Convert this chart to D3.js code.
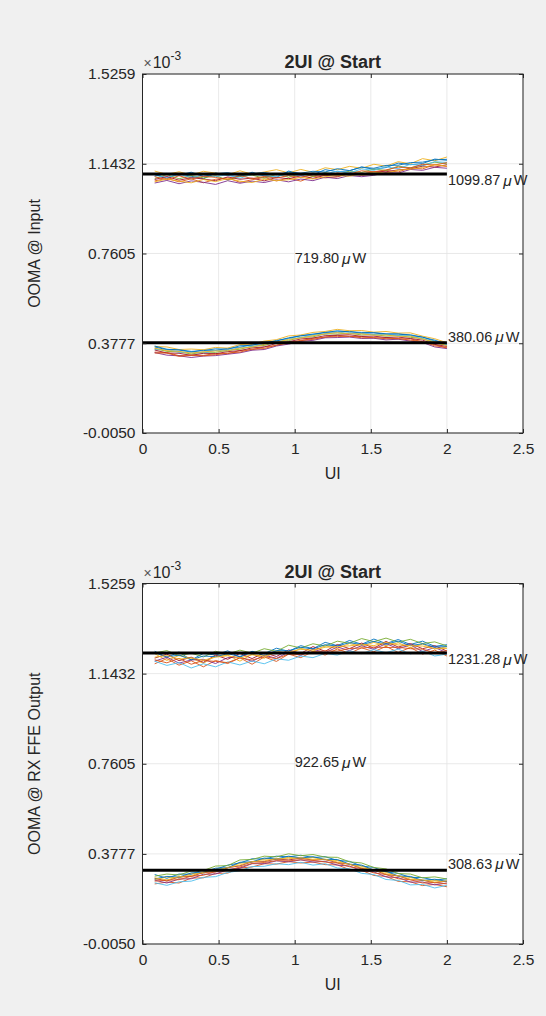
<!DOCTYPE html>
<html>
<head>
<meta charset="utf-8">
<script src="https://d3js.org/d3.v7.min.js"></script>
<style>
  body { margin: 0; background: #f0f0f0; }
  svg { display: block; }
  text { font-family: "Liberation Sans", Arial, Helvetica, sans-serif; fill: #262626; }
</style>
</head>
<body>
<svg width="546" height="1016"></svg>
<script>
// ---- data (values in µW) ----
var uiSamples = [0.08,0.16,0.24,0.32,0.40,0.48,0.56,0.64,0.72,0.80,0.88,0.96,1.04,1.12,1.20,1.28,1.36,1.44,1.52,1.60,1.68,1.76,1.84,1.92,2.00];

var inputHigh = [
  [1098,1082,1101,1090,1079,1104,1093,1088,1107,1091,1085,1112,1099,1096,1118,1109,1113,1130,1119,1127,1146,1139,1144,1163,1158],
  [1070,1081,1066,1079,1062,1077,1083,1064,1075,1085,1070,1082,1069,1090,1083,1087,1101,1094,1099,1115,1108,1126,1121,1140,1131],
  [1112,1098,1109,1095,1111,1103,1096,1113,1099,1108,1118,1104,1119,1107,1126,1118,1132,1124,1141,1133,1152,1143,1165,1156,1172],
  [1061,1072,1058,1070,1064,1055,1071,1060,1069,1063,1075,1066,1078,1071,1086,1080,1093,1088,1094,1106,1103,1119,1115,1128,1124],
  [1080,1097,1079,1093,1083,1092,1074,1090,1095,1081,1098,1086,1101,1089,1106,1095,1112,1106,1121,1114,1133,1126,1138,1150,1143],
  [1095,1083,1100,1082,1096,1088,1097,1081,1098,1094,1088,1102,1090,1105,1099,1112,1104,1121,1115,1130,1122,1141,1134,1152,1149],
  [1076,1089,1073,1084,1078,1071,1087,1077,1082,1070,1085,1079,1092,1081,1094,1090,1103,1098,1110,1109,1117,1121,1133,1129,1139],
  [1090,1102,1094,1107,1089,1100,1105,1092,1101,1106,1096,1108,1103,1111,1108,1122,1114,1128,1124,1136,1137,1148,1150,1160,1162],
  [1088,1075,1092,1078,1090,1085,1076,1093,1080,1089,1082,1093,1084,1096,1093,1103,1099,1113,1109,1117,1129,1125,1141,1138,1148],
  [1066,1078,1069,1062,1076,1067,1080,1069,1063,1077,1071,1075,1085,1078,1088,1094,1090,1101,1107,1103,1116,1120,1127,1139,1133]
];
var inputLow = [
  [362,350,349,340,349,347,356,360,373,376,390,398,411,414,425,426,429,420,422,416,418,410,405,386,379],
  [340,338,325,328,326,334,333,347,350,362,368,383,388,399,403,412,406,407,400,401,396,397,383,372,357],
  [364,362,351,353,350,360,357,372,374,387,393,409,413,424,428,437,431,432,425,428,421,422,408,397,380],
  [338,327,324,317,323,325,331,337,348,351,366,374,386,390,401,402,404,398,399,392,395,387,381,362,355],
  [355,343,341,332,340,339,348,352,365,368,383,389,403,405,418,417,421,413,415,408,411,403,398,378,370],
  [350,352,339,341,335,348,344,361,362,376,380,398,401,414,416,426,419,421,413,416,410,411,396,387,369],
  [349,336,335,326,335,333,342,346,358,362,377,384,396,400,410,412,414,407,408,402,404,398,391,373,364],
  [366,352,350,343,346,354,352,367,369,382,387,401,409,417,423,431,426,424,423,418,417,414,403,391,374],
  [336,336,322,326,324,329,336,340,353,355,370,378,390,394,405,406,408,401,402,397,398,391,385,367,360],
  [357,346,343,336,341,345,345,357,361,373,382,394,400,410,417,423,418,418,412,413,407,408,395,384,367]
];
var ffeHigh = [
  [1238,1212,1235,1201,1229,1222,1240,1213,1236,1228,1251,1238,1262,1249,1276,1262,1284,1268,1290,1271,1288,1267,1281,1259,1266],
  [1185,1207,1179,1198,1172,1199,1186,1210,1183,1214,1195,1226,1211,1237,1222,1248,1229,1253,1236,1259,1233,1254,1226,1243,1218],
  [1228,1199,1220,1209,1187,1218,1221,1196,1226,1208,1240,1226,1251,1238,1262,1250,1271,1259,1276,1262,1274,1253,1268,1248,1257],
  [1196,1213,1188,1201,1204,1186,1211,1214,1195,1222,1208,1235,1220,1247,1232,1256,1241,1262,1246,1271,1249,1265,1237,1254,1232],
  [1231,1241,1219,1230,1214,1238,1226,1243,1230,1249,1238,1264,1252,1270,1260,1281,1272,1292,1279,1294,1277,1289,1271,1278,1261],
  [1196,1178,1190,1167,1185,1172,1193,1180,1197,1185,1206,1200,1218,1211,1229,1222,1240,1228,1245,1232,1247,1227,1239,1218,1226],
  [1209,1226,1198,1213,1191,1222,1204,1229,1207,1232,1216,1244,1229,1258,1238,1267,1249,1273,1251,1280,1256,1271,1249,1262,1239],
  [1232,1214,1222,1202,1218,1215,1228,1216,1238,1220,1241,1240,1255,1248,1266,1260,1275,1266,1280,1268,1281,1262,1270,1256,1258],
  [1202,1189,1208,1183,1199,1195,1190,1210,1201,1215,1207,1226,1224,1236,1240,1239,1250,1252,1256,1254,1255,1249,1247,1232,1241],
  [1213,1220,1205,1210,1200,1213,1219,1210,1223,1218,1232,1235,1246,1243,1255,1258,1261,1268,1262,1276,1265,1262,1260,1249,1250]
];
var ffeLow = [
  [290,274,292,291,311,312,330,339,357,356,368,365,372,362,366,350,346,326,320,301,295,278,277,266,272],
  [250,258,254,275,276,295,296,318,322,336,334,345,339,343,332,331,311,308,286,282,261,259,243,248,238],
  [268,280,275,295,295,313,318,338,343,356,354,363,359,362,352,350,332,326,308,300,283,278,264,266,259],
  [266,254,271,272,291,292,311,317,336,336,348,344,352,343,346,330,326,306,301,280,277,258,258,246,254],
  [283,292,288,305,307,326,328,352,354,368,365,378,370,375,364,363,344,339,320,314,294,292,276,280,271],
  [255,244,259,262,278,281,299,306,324,325,336,332,342,330,336,318,314,295,290,269,265,246,248,233,244],
  [274,263,280,282,299,301,319,327,344,345,356,352,360,351,354,340,334,316,309,290,284,268,266,255,262],
  [271,282,279,297,299,317,319,342,344,360,356,368,360,366,354,354,334,330,309,304,284,282,265,270,261],
  [262,266,268,283,287,303,307,322,337,341,349,348,353,350,343,339,323,315,297,290,272,268,254,256,250],
  [276,267,281,286,300,304,320,330,345,348,357,357,361,354,355,343,334,319,310,293,285,270,267,258,263]
];

var levelHigh = [1099.87, 1231.28];
var levelLow = [380.06, 308.63];
var levelDiff = [719.80, 922.65];
var yLabels = ["OOMA @ Input", "OOMA @ RX FFE Output"];
var titles = ["2UI @ Start", "2UI @ Start"];
var yTicks = [-5, 377.7, 760.5, 1143.2, 1525.9];
var xTicks = [0, 0.5, 1, 1.5, 2, 2.5];
var lineColors = ["#0072BD", "#D95319", "#EDB120", "#7E2F8E", "#77AC30", "#4DBEEE", "#A2142F"];

var groups = [[inputHigh, inputLow], [ffeHigh, ffeLow]];

// ---- layout ----
var svg = d3.select("svg");
var left = 142.5, right = 523;
var panels = [{top: 74, bottom: 433}, {top: 583.5, bottom: 944}];

var xScale = d3.scaleLinear().domain([0, 2.5]).range([left, right]);

panels.forEach(function(p, k) {
  var yScale = d3.scaleLinear().domain([yTicks[0], yTicks[yTicks.length-1]]).range([p.bottom, p.top]);
  var g = svg.append("g");

  g.append("rect")
    .attr("x", left).attr("y", p.top)
    .attr("width", right-left).attr("height", p.bottom-p.top)
    .attr("fill", "#fff");

  // grid
  g.selectAll(".gx").data(xTicks).enter().append("line")
    .attr("x1", function(d) { return xScale(d); }).attr("x2", function(d) { return xScale(d); })
    .attr("y1", p.top).attr("y2", p.bottom)
    .attr("stroke", "#e3e3e3").attr("stroke-width", 0.8);
  g.selectAll(".gy").data(yTicks).enter().append("line")
    .attr("y1", function(d) { return yScale(d); }).attr("y2", function(d) { return yScale(d); })
    .attr("x1", left).attr("x2", right)
    .attr("stroke", "#e3e3e3").attr("stroke-width", 0.8);

  // traces
  var line = d3.line()
    .x(function(d, i) { return xScale(uiSamples[i]); })
    .y(function(d) { return yScale(d); });
  groups[k].forEach(function(set) {
    set.forEach(function(tr, i) {
      g.append("path")
        .attr("d", line(tr))
        .attr("fill", "none")
        .attr("stroke", lineColors[i % lineColors.length])
        .attr("stroke-width", 0.9);
    });
  });

  // level lines
  [levelHigh[k], levelLow[k]].forEach(function(v) {
    g.append("line")
      .attr("x1", xScale(0)).attr("x2", xScale(2))
      .attr("y1", yScale(v)).attr("y2", yScale(v))
      .attr("stroke", "#000").attr("stroke-width", 3);
  });

  // axes (ticks inward, on all four sides)
  var fmtY = function(d) { return (d/1000).toFixed(4); };
  var axL = g.append("g").attr("transform", "translate(" + left + ",0)")
    .call(d3.axisLeft(yScale).tickValues(yTicks).tickSize(-4).tickPadding(7).tickFormat(fmtY));
  var axR = g.append("g").attr("transform", "translate(" + right + ",0)")
    .call(d3.axisRight(yScale).tickValues(yTicks).tickSize(-4).tickFormat(""));
  var axB = g.append("g").attr("transform", "translate(0," + p.bottom + ")")
    .call(d3.axisBottom(xScale).tickValues(xTicks).tickSize(-4).tickPadding(10).tickFormat(function(d) { return String(d); }));
  var axT = g.append("g").attr("transform", "translate(0," + p.top + ")")
    .call(d3.axisTop(xScale).tickValues(xTicks).tickSize(-4).tickFormat(""));
  [axL, axR, axB, axT].forEach(function(a) {
    a.select(".domain").remove();
    a.selectAll("line").attr("stroke", "#262626");
    a.selectAll("text").attr("fill", "#262626")
      .style("font-family", "'Liberation Sans', Arial, sans-serif").style("font-size", "15.5px");
  });

  g.append("rect")
    .attr("x", left).attr("y", p.top)
    .attr("width", right-left).attr("height", p.bottom-p.top)
    .attr("fill", "none").attr("stroke", "#262626").attr("stroke-width", 1);

  // exponent
  var ex = g.append("text").attr("x", left + 1).attr("y", p.top - 6).style("font-size", "16px");
  ex.append("tspan").text("\u00d7").style("font-size", "14px").attr("fill", "#555");
  ex.append("tspan").text("10").attr("dx", 1);
  ex.append("tspan").text("-3").attr("dy", -8).style("font-size", "12px");

  // title
  g.append("text")
    .attr("x", (left+right)/2).attr("y", p.top - 6)
    .attr("text-anchor", "middle")
    .style("font-size", "18px").style("font-weight", "bold")
    .attr("fill", "#000")
    .text(titles[k]);

  // axis labels
  g.append("text")
    .attr("x", (left+right)/2).attr("y", p.bottom + 46)
    .attr("text-anchor", "middle").style("font-size", "16px")
    .text("UI");
  g.append("text")
    .attr("transform", "translate(34," + ((p.top+p.bottom)/2) + ") rotate(-90)")
    .attr("text-anchor", "middle").attr("dominant-baseline", "central")
    .style("font-size", "16px")
    .text(yLabels[k]);

  // value annotations
  function valueText(x, y, v, baseline) {
    var t = g.append("text").attr("x", x).attr("y", y)
      .attr("dominant-baseline", baseline)
      .style("font-size", "14.5px").attr("fill", "#000");
    t.append("tspan").text(v.toFixed(2));
    t.append("tspan").text("\u03bc").attr("dx", 3).style("font-style", "italic").style("font-size", "15.5px");
    t.append("tspan").text("W").attr("dx", 2);
  }
  valueText(xScale(2) + 1, yScale(levelHigh[k]) + 1, levelHigh[k], "hanging");
  valueText(xScale(2) + 1, yScale(levelLow[k]) - 1, levelLow[k], "auto");
  valueText(xScale(1), yScale((levelHigh[k] + levelLow[k]) / 2), levelDiff[k], "central");
});
</script>
</body>
</html>
